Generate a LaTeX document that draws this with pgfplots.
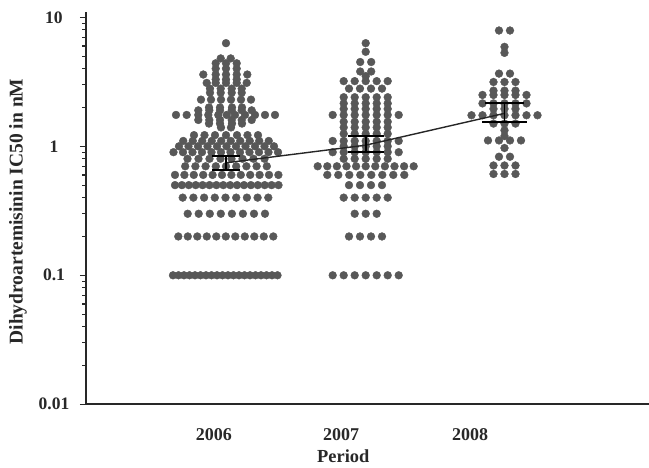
\documentclass[border=0pt]{standalone}
\usepackage{fontspec}
\setmainfont{Liberation Serif}
\usepackage{pgfplots}
\pgfplotsset{compat=1.18}
\definecolor{dot}{RGB}{88,88,88}
\definecolor{axc}{RGB}{40,40,40}
\begin{document}
\begin{tikzpicture}
\path[use as bounding box] (0,0) rectangle (649pt,468pt);
\begin{axis}[
  at={(86pt,63.7pt)}, anchor=south west, scale only axis,
  width=563pt, height=392.6pt,
  xmin=86, xmax=649, ymode=log, ymin=0.01, ymax=11.05,
  clip=false, clip mode=individual,
  axis x line*=bottom, axis y line*=left,
  axis line style={axc, line width=1.6pt},
  xtick={214,341,470}, xticklabels={2006,2007,2008},
  xtick style={draw=none},
  xticklabel style={anchor=center, yshift=-24pt, font=\fontsize{18}{20}\selectfont\bfseries, text=axc},
  ytick={0.01,0.1,1,10}, yticklabels={0.01,0.1,1,10},
  minor ytick={0.02,0.03,0.04,0.05,0.06,0.07,0.08,0.09,0.2,0.3,0.4,0.5,0.6,0.7,0.8,0.9,2,3,4,5,6,7,8,9},
  tick align=outside, major tick length=6pt, minor tick length=3.5pt,
  ytick style={axc, line width=1.2pt},
  yticklabel style={anchor=center, inner sep=0pt, xshift=-26pt, font=\fontsize{17.5}{20}\selectfont\bfseries, text=axc},
  ylabel={Dihydroartemisinin IC50 in nM},
  ylabel style={at={(axis description cs:-0.1208,0.491)}, anchor=center, font=\fontsize{19.5}{22}\selectfont\bfseries, text=axc},
  xlabel={Period},
  xlabel style={at={(axis description cs:0.457,-0.131)}, anchor=center, inner sep=0pt, font=\fontsize{18.4}{22}\selectfont\bfseries, text=axc},
]
% 2006
\addplot[only marks, mark=*, mark size=3.9pt, color=dot, mark options={fill=dot, draw=dot}] coordinates {
(173,0.1)(178.5,0.1)(184,0.1)(189.5,0.1)(195,0.1)(200.5,0.1)(206,0.1)(211.5,0.1)(217,0.1)(222.5,0.1)(228,0.1)(233.5,0.1)(239,0.1)(244.5,0.1)(250,0.1)(255.5,0.1)(261,0.1)(266.5,0.1)(272,0.1)(277.5,0.1)
(178.3,0.2)(187.8,0.2)(197.3,0.2)(206.8,0.2)(216.3,0.2)(225.8,0.2)(235.3,0.2)(244.8,0.2)(254.3,0.2)(263.8,0.2)(273.3,0.2)
(187.7,0.3)(198.7,0.3)(209.8,0.3)(220.8,0.3)(231.9,0.3)(242.9,0.3)(254,0.3)(265,0.3)
(182.7,0.4)(193.4,0.4)(204.1,0.4)(214.8,0.4)(225.5,0.4)(236.2,0.4)(246.9,0.4)(257.6,0.4)(268.3,0.4)
(175,0.5)(181.9,0.5)(188.8,0.5)(195.7,0.5)(202.6,0.5)(209.5,0.5)(216.4,0.5)(223.3,0.5)(230.2,0.5)(237.1,0.5)(244,0.5)(250.9,0.5)(257.8,0.5)(264.7,0.5)(271.6,0.5)(278.5,0.5)
(175,0.6)(184.4,0.6)(193.8,0.6)(203.2,0.6)(212.6,0.6)(222,0.6)(231.4,0.6)(240.8,0.6)(250.2,0.6)(259.6,0.6)(269,0.6)(278.4,0.6)
(185.2,0.7)(195.4,0.7)(205.6,0.7)(215.8,0.7)(226,0.7)(236.2,0.7)(246.4,0.7)(256.6,0.7)(266.8,0.7)
(187.5,0.8)(198.5,0.8)(209.5,0.8)(220.5,0.8)(231.5,0.8)(242.5,0.8)(253.5,0.8)(264.5,0.8)
(173.5,0.9)(183,0.9)(192.5,0.9)(202,0.9)(211.5,0.9)(221,0.9)(230.5,0.9)(240,0.9)(249.5,0.9)(259,0.9)(268.5,0.9)(278,0.9)
(179,1)(188.5,1)(198,1)(207.5,1)(217,1)(226.5,1)(236,1)(245.5,1)(255,1)(264.5,1)(274,1)
(183.25,1.1)(192.75,1.1)(202.25,1.1)(211.75,1.1)(221.25,1.1)(230.75,1.1)(240.25,1.1)(249.75,1.1)(259.25,1.1)(268.75,1.1)
(194,1.22)(204.5,1.22)(215,1.22)(226,1.22)(237,1.22)(247.5,1.22)(258,1.22)
(221,1.4)(231,1.4)
(209,1.5)(220,1.5)(232,1.5)(242,1.5)
(198.3,1.6)(209.3,1.6)(220,1.6)(231.7,1.6)(241.7,1.6)(251.7,1.6)
(176,1.75)(186.7,1.75)(198.3,1.75)(208.3,1.75)(218.3,1.75)(226.7,1.75)(235,1.75)(245,1.75)(255,1.75)(265,1.75)(275,1.75)
(198.3,1.9)(209.3,1.9)(220,1.9)(231.7,1.9)(241.7,1.9)(251.7,1.9)
(209,2)(220,2)(232,2)(242,2)
(201,2.3)(211,2.3)(221,2.3)(231,2.3)(241,2.3)(251,2.3)
(210,2.6)(220.7,2.6)(231.7,2.6)(241.7,2.6)
(210,2.8)(220.7,2.8)(231.7,2.8)(241.7,2.8)
(206.7,3.1)(215.7,3.1)(226,3.1)(236.7,3.1)(246.7,3.1)
(215.7,3.3)(226,3.3)(236.7,3.3)
(203.3,3.6)(215.7,3.6)(226,3.6)(236.7,3.6)(247.3,3.6)
(215.7,4)(226,4)(236.7,4)
(215.7,4.4)(226,4.4)(236.7,4.4)
(220.7,4.8)(230.7,4.8)
(226,6.3)
};
% 2007
\addplot[only marks, mark=*, mark size=3.9pt, color=dot, mark options={fill=dot, draw=dot}] coordinates {
(332.7,0.1)(343.7,0.1)(354.7,0.1)(365.7,0.1)(376.7,0.1)(387.7,0.1)(398.7,0.1)
(349,0.2)(360,0.2)(371,0.2)(382,0.2)
(354.7,0.3)(365.7,0.3)(376.7,0.3)
(343.7,0.4)(354.7,0.4)(365.7,0.4)(376.7,0.4)(387.7,0.4)
(349,0.5)(360,0.5)(371,0.5)(382,0.5)
(327.3,0.6)(338.3,0.6)(349.3,0.6)(360.3,0.6)(371.3,0.6)(382.3,0.6)(393.3,0.6)(404.3,0.6)
(317.7,0.7)(327.3,0.7)(336.9,0.7)(346.5,0.7)(356.1,0.7)(365.7,0.7)(375.3,0.7)(384.9,0.7)(394.5,0.7)(404.1,0.7)(413.7,0.7)
(343.7,0.8)(354.7,0.8)(365.7,0.8)(376.7,0.8)(387.7,0.8)
(332.7,0.9)(343.7,0.9)(354.7,0.9)(365.7,0.9)(376.7,0.9)(387.7,0.9)(398.7,0.9)
(343.7,1)(354.7,1)(365.7,1)(376.7,1)(387.7,1)
(332.7,1.1)(343.7,1.1)(354.7,1.1)(365.7,1.1)(376.7,1.1)(387.7,1.1)(398.7,1.1)
(343.7,1.25)(354.7,1.25)(365.7,1.25)(376.7,1.25)(387.7,1.25)
(343.7,1.4)(354.7,1.4)(365.7,1.4)(376.7,1.4)(387.7,1.4)
(343.7,1.55)(354.7,1.55)(365.7,1.55)(376.7,1.55)(387.7,1.55)
(332.7,1.75)(343.7,1.75)(354.7,1.75)(365.7,1.75)(376.7,1.75)(387.7,1.75)(398.7,1.75)
(343.7,1.95)(354.7,1.95)(365.7,1.95)(376.7,1.95)(387.7,1.95)
(343.7,2.15)(354.7,2.15)(365.7,2.15)(376.7,2.15)(387.7,2.15)
(343.7,2.4)(354.7,2.4)(365.7,2.4)(376.7,2.4)(387.7,2.4)
(349,2.8)(360,2.8)(371,2.8)(382,2.8)
(343.7,3.2)(354.7,3.2)(365.7,3.2)(376.7,3.2)(387.7,3.2)
(365.7,3.5)
(360.2,3.8)(371.2,3.8)
(360.2,4.5)(371.2,4.5)
(365.7,5.4)
(365.7,6.3)
};
% 2008
\addplot[only marks, mark=*, mark size=3.9pt, color=dot, mark options={fill=dot, draw=dot}] coordinates {
(499,7.9)(510,7.9)
(504.5,5.9)(504.5,5.3)
(499,3.66)(510,3.66)
(493.5,3.15)(504.5,3.15)(515.5,3.15)
(493.5,2.7)(504.5,2.7)(515.5,2.7)
(482.5,2.5)(493.5,2.5)(504.5,2.5)(515.5,2.5)(526.5,2.5)
(482.5,2.15)(493.5,2.15)(504.5,2.15)(515.5,2.15)(526.5,2.15)
(493.5,1.95)(504.5,1.95)(515.5,1.95)
(471.5,1.74)(482.5,1.74)(493.5,1.74)(504.5,1.74)(515.5,1.74)(526.5,1.74)(537.5,1.74)
(493.5,1.5)(504.5,1.5)(515.5,1.5)
(504.5,1.33)(504.5,1.2)
(488,1.11)(499,1.11)(510,1.11)(521,1.11)
(504.5,0.97)
(499,0.83)(510,0.83)
(493.5,0.71)(504.5,0.71)(515.5,0.71)
(493.5,0.61)(504.5,0.61)(515.5,0.61)
};
% mean line
\addplot[color=black!85, line width=1.4pt, mark=none] coordinates {(226,0.745)(365.7,1.02)(504.5,1.8)};
% error bars (SEM): stems and caps
\addplot[black, line width=1.9pt, mark=none] coordinates {(226,0.66)(226,0.837)};
\addplot[black, line width=1.9pt, mark=none] coordinates {(212,0.837)(240,0.837)};
\addplot[black, line width=1.9pt, mark=none] coordinates {(212,0.66)(240,0.66)};
\addplot[black, line width=1.9pt, mark=none] coordinates {(365.7,0.898)(365.7,1.195)};
\addplot[black, line width=1.9pt, mark=none] coordinates {(348,1.195)(383.5,1.195)};
\addplot[black, line width=1.9pt, mark=none] coordinates {(348,0.898)(383.5,0.898)};
\addplot[black, line width=1.9pt, mark=none] coordinates {(504.5,1.55)(504.5,2.17)};
\addplot[black, line width=1.9pt, mark=none] coordinates {(485,2.17)(524,2.17)};
\addplot[black, line width=1.9pt, mark=none] coordinates {(482,1.55)(527,1.55)};
\end{axis}
\end{tikzpicture}
\end{document}
